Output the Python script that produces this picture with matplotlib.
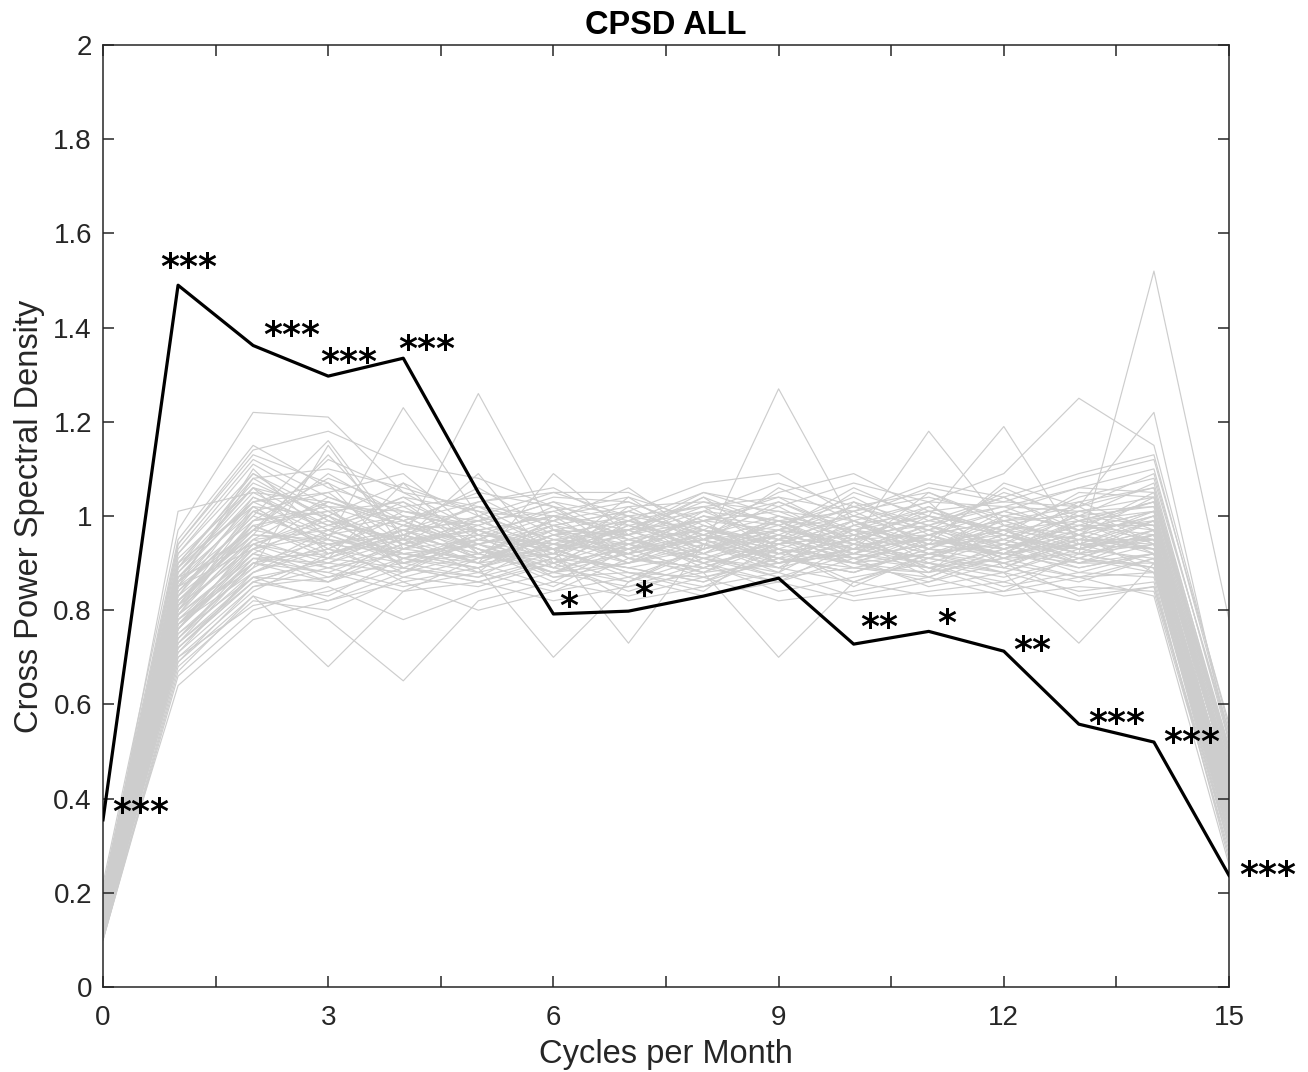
import matplotlib
matplotlib.use("Agg")
import matplotlib.pyplot as plt
import matplotlib.transforms as mtransforms
import numpy as np

plt.rcParams['font.family'] = ['Liberation Sans', 'DejaVu Sans']

freq = list(range(16))

cpsd_all = [0.355, 1.490, 1.362, 1.297, 1.335, 1.050, 0.792, 0.798,
            0.830, 0.868, 0.728, 0.755, 0.713, 0.558, 0.520, 0.237]

sig_labels = ['***', '***', '***', '***', '***', '', '*', '*',
              '', '', '**', '*', '**', '***', '***', '***']

surrogates = [
    [0.15,0.82,0.95,0.90,0.97,0.93,0.88,0.95,0.92,0.99,0.91,0.94,0.97,0.90,0.96,0.38],
    [0.12,0.76,0.92,1.00,0.89,0.95,1.02,0.91,0.88,0.94,0.99,0.92,0.90,0.95,0.93,0.42],
    [0.18,0.88,1.05,0.97,0.92,0.89,0.94,1.01,0.96,0.90,0.93,0.98,1.04,0.97,1.01,0.45],
    [0.11,0.72,0.86,0.83,0.91,0.96,0.87,0.90,0.98,0.93,0.86,0.91,0.88,0.94,0.90,0.33],
    [0.14,0.79,0.99,1.08,1.02,0.94,0.91,0.86,0.93,0.97,1.00,0.95,0.92,0.99,1.03,0.48],
    [0.16,0.85,1.10,0.95,0.88,0.92,0.98,0.95,0.90,0.86,0.94,1.02,0.96,0.91,0.97,0.40],
    [0.13,0.70,0.84,0.92,0.96,0.90,0.85,0.93,1.00,0.95,0.89,0.87,0.93,0.96,0.92,0.36],
    [0.20,0.93,1.12,1.04,0.98,1.06,0.97,0.92,0.95,1.03,0.97,0.93,1.01,1.06,1.10,0.52],
    [0.12,0.74,0.90,0.88,0.84,0.91,0.93,0.88,0.85,0.92,0.95,0.89,0.86,0.91,0.88,0.30],
    [0.17,0.86,0.97,1.12,1.05,0.97,0.90,0.97,1.03,0.98,0.92,0.96,0.99,0.94,1.00,0.44],
    [0.10,0.68,0.82,0.80,0.87,0.85,0.90,0.84,0.89,0.86,0.91,0.85,0.88,0.84,0.86,0.28],
    [0.15,0.81,1.02,0.93,1.00,0.98,0.92,1.04,0.94,0.90,0.97,1.00,0.93,0.98,0.95,0.41],
    [0.19,0.90,1.07,1.00,0.94,1.03,1.06,0.98,1.01,1.07,1.02,0.97,1.05,1.00,1.07,0.50],
    [0.13,0.77,0.88,0.96,0.90,0.87,0.95,0.92,0.87,0.91,0.88,0.93,0.90,0.87,0.91,0.35],
    [0.14,0.80,0.94,0.91,1.07,0.92,0.88,0.90,0.97,0.94,0.99,0.90,0.95,1.02,0.94,0.43],
    [0.16,0.84,1.00,1.16,0.95,0.90,0.97,1.00,0.92,0.96,0.93,1.05,0.98,0.93,0.99,0.46],
    [0.11,0.71,0.85,0.87,0.93,1.00,0.89,0.86,0.94,0.88,0.96,0.89,0.84,0.92,0.89,0.32],
    [0.18,0.89,1.09,0.99,0.91,0.95,1.00,0.96,0.99,1.01,0.95,0.99,1.02,0.96,1.04,0.49],
    [0.15,0.78,0.93,1.03,0.99,0.93,0.86,0.94,0.91,0.87,0.92,0.96,0.91,0.97,0.93,0.39],
    [0.12,0.73,0.87,0.82,0.88,0.97,0.92,0.89,0.86,0.93,0.85,0.92,0.94,0.89,0.92,0.34],
    [0.21,0.95,1.15,1.06,1.01,0.99,1.04,1.03,0.97,0.95,1.05,1.00,0.97,1.04,1.08,0.54],
    [0.14,0.83,0.96,0.94,0.86,0.89,0.96,0.99,1.02,0.92,0.90,0.88,1.00,0.93,0.96,0.42],
    [0.17,0.87,1.04,0.98,1.04,1.01,0.93,0.87,0.93,0.99,1.01,0.94,0.92,1.01,0.98,0.47],
    [0.10,0.66,0.80,0.85,0.78,0.84,0.88,0.85,0.90,0.84,0.87,0.90,0.85,0.88,0.87,0.27],
    [0.13,0.76,0.91,0.90,0.95,1.09,0.90,0.93,0.88,0.96,0.93,0.91,0.96,0.92,0.94,0.37],
    [0.16,0.82,0.98,1.01,0.92,0.94,0.99,1.06,0.95,0.89,0.98,1.03,0.89,0.95,1.01,0.45],
    [0.19,0.91,1.06,0.92,0.97,0.91,0.95,0.97,1.05,1.00,0.94,0.95,1.06,0.99,1.03,0.51],
    [0.12,0.75,0.89,0.97,0.91,0.88,0.84,0.91,0.89,0.94,0.90,0.86,0.92,0.90,0.90,0.34],
    [0.15,0.80,1.01,1.05,1.09,0.96,0.94,0.92,0.99,1.04,0.96,0.98,0.94,1.03,0.97,0.44],
    [0.14,0.79,0.92,0.86,0.93,0.99,1.01,0.95,0.91,0.88,1.03,0.93,0.99,0.94,0.95,0.40],
    [0.22,0.97,1.22,1.21,1.05,1.02,0.98,1.01,1.07,1.09,1.00,1.06,1.03,1.08,1.12,0.56],
    [0.11,0.69,0.83,0.78,0.65,0.82,0.86,0.83,0.87,0.82,0.84,0.87,0.83,0.85,0.84,0.29],
    [0.16,0.85,0.97,1.09,1.00,0.93,0.89,0.99,0.96,0.92,0.95,1.01,0.97,0.92,0.99,0.43],
    [0.13,0.77,0.94,0.89,0.94,0.90,0.96,0.90,0.93,0.97,0.91,0.89,0.93,0.99,0.92,0.38],
    [0.18,0.88,1.03,0.96,0.99,1.05,1.02,0.94,1.00,0.98,1.04,0.96,1.01,0.97,1.05,0.48],
    [0.15,0.81,0.99,1.02,0.89,0.86,0.91,1.02,0.94,0.91,0.88,0.94,0.96,0.93,0.96,0.41],
    [0.12,0.72,0.86,0.91,0.98,0.93,0.87,0.88,0.84,0.95,0.92,0.90,0.87,0.91,0.89,0.33],
    [0.17,0.86,1.08,0.99,0.95,1.26,0.97,0.96,1.02,0.99,0.97,1.02,0.95,1.00,1.02,0.46],
    [0.14,0.78,0.90,0.93,0.87,0.91,0.93,1.00,0.97,0.90,0.93,0.97,0.91,0.96,0.93,0.39],
    [0.20,0.92,1.11,1.02,1.01,0.97,1.00,0.98,0.95,1.06,0.99,0.94,1.07,1.02,1.09,0.53],
    [0.13,0.74,0.88,0.94,0.92,0.89,0.70,0.86,0.91,0.89,0.86,0.92,0.89,0.86,0.91,0.36],
    [0.16,0.83,1.04,0.97,1.04,0.95,0.93,0.94,1.00,0.96,1.02,0.98,0.93,0.98,0.98,0.44],
    [0.11,0.70,0.81,0.84,0.89,0.87,0.91,0.82,0.85,0.88,0.83,0.86,0.90,0.83,0.85,0.30],
    [0.15,0.82,0.96,1.13,0.96,0.92,0.99,0.93,0.96,1.02,0.94,0.91,0.98,0.95,0.95,0.42],
    [0.18,0.90,1.02,1.00,1.07,1.00,1.05,1.05,0.98,0.94,1.01,1.04,1.00,1.03,1.06,0.49],
    [0.13,0.76,0.93,0.87,0.90,0.94,0.89,0.92,0.95,0.91,0.88,0.93,0.92,0.89,0.92,0.37],
    [0.17,0.84,1.00,0.95,0.93,0.98,1.03,1.00,0.90,0.97,1.06,0.99,1.04,0.96,1.00,0.46],
    [0.12,0.64,0.78,0.82,0.86,0.80,0.84,0.87,0.83,0.86,0.82,0.84,0.86,0.82,0.85,0.31],
    [0.14,0.80,0.95,1.04,0.99,0.91,0.92,0.96,1.04,0.93,0.90,0.96,0.99,1.00,0.94,0.40],
    [0.19,0.89,1.06,0.98,1.02,1.04,0.96,0.99,0.93,1.27,0.98,1.01,0.96,1.05,1.04,0.50],
    [0.15,0.79,0.91,0.92,0.95,0.88,1.00,0.91,0.89,0.95,0.97,0.88,0.94,0.93,0.97,0.39],
    [0.16,0.85,1.03,1.07,0.90,0.96,0.94,0.97,0.99,0.90,0.92,1.00,1.19,0.94,0.99,0.45],
    [0.10,0.67,0.83,0.68,0.84,0.86,0.82,0.85,0.88,0.70,0.86,0.83,0.84,0.87,0.83,0.26],
    [0.17,0.87,1.01,0.96,1.03,0.92,0.98,1.01,0.96,1.00,0.95,1.18,0.98,1.01,1.02,0.47],
    [0.13,0.75,0.87,0.90,0.88,0.95,0.91,0.89,0.92,0.87,0.89,0.92,0.88,0.73,0.90,0.35],
    [0.20,0.94,1.14,1.18,1.11,1.08,1.02,0.99,1.05,1.02,1.07,1.03,1.09,1.25,1.15,0.55],
    [0.14,0.81,0.97,0.94,0.97,0.99,0.93,0.73,0.94,0.98,0.93,0.95,0.92,0.94,0.93,0.41],
    [0.16,0.86,0.99,1.01,0.94,0.90,1.09,0.96,1.01,0.95,1.00,0.97,1.01,0.97,1.01,0.43],
    [0.15,0.73,0.90,0.95,1.23,1.00,0.95,0.94,0.90,0.93,0.91,0.94,0.97,0.92,1.52,0.78],
    [0.12,0.77,0.92,0.89,0.92,0.94,0.88,0.92,0.96,0.91,0.94,0.91,0.89,0.96,0.88,0.32],
    [0.18,1.01,1.05,1.03,0.98,0.97,1.00,1.03,0.97,1.05,1.09,1.01,1.03,1.02,1.22,0.52],
    [0.14,0.78,0.89,1.15,0.93,0.91,0.96,0.97,0.91,0.94,0.96,0.92,0.95,0.90,0.94,0.38],
    [0.16,0.84,0.98,0.91,0.96,1.02,0.94,0.93,0.95,0.99,0.92,0.98,0.91,0.99,0.97,0.44],
    [0.13,0.72,0.87,0.86,0.91,0.89,0.93,0.88,0.87,0.90,0.95,0.87,0.93,0.88,0.92,0.36],
    [0.15,0.87,0.94,0.99,0.95,0.97,0.91,0.98,0.93,0.96,0.90,0.95,0.93,0.97,0.99,0.41],
    [0.13,0.80,0.98,0.92,0.97,0.91,0.96,0.93,0.98,0.92,0.95,0.99,0.96,0.92,0.95,0.37],
    [0.17,0.89,1.03,1.05,0.94,0.99,0.93,0.97,0.92,1.00,0.97,0.93,1.00,0.98,1.03,0.47],
    [0.12,0.71,0.88,0.93,0.90,0.92,0.97,0.90,0.94,0.89,0.93,0.90,0.88,0.93,0.91,0.33],
    [0.19,0.92,1.09,1.01,1.03,0.96,1.01,1.04,0.99,0.97,1.02,1.05,0.99,1.02,1.06,0.51],
    [0.14,0.76,0.95,0.97,1.00,0.93,0.90,0.95,0.97,0.94,0.96,0.92,0.97,0.95,0.94,0.39],
    [0.16,0.83,1.01,0.94,0.96,1.00,0.95,0.92,1.01,0.99,0.93,0.97,0.94,1.00,0.98,0.45],
    [0.11,0.69,0.85,0.89,0.85,0.88,0.92,0.89,0.86,0.91,0.89,0.88,0.91,0.87,0.88,0.31],
    [0.15,0.85,0.93,0.96,0.91,0.94,0.98,0.91,0.96,0.93,0.98,0.94,0.95,0.91,0.96,0.40],
    [0.18,0.90,1.08,1.10,1.06,1.01,0.99,1.02,1.03,1.01,0.99,1.03,1.02,1.06,1.05,0.50],
    [0.13,0.74,0.91,0.88,0.94,0.97,0.93,0.96,0.89,0.95,0.91,0.96,0.90,0.94,0.93,0.36],
    [0.16,0.82,0.97,1.03,0.98,0.94,0.97,0.94,0.97,0.91,0.99,0.93,0.98,0.96,1.00,0.43],
    [0.14,0.79,0.96,0.95,0.92,0.90,0.92,0.98,0.93,0.97,0.94,0.91,0.96,0.93,0.97,0.41],
    [0.20,0.94,1.13,1.07,0.99,1.03,1.05,1.00,1.02,1.04,1.01,1.07,1.04,1.09,1.13,0.54],
    [0.12,0.73,0.86,0.91,0.89,0.86,0.90,0.93,0.88,0.90,0.92,0.89,0.91,0.92,0.89,0.32],
    [0.17,0.86,1.02,0.93,1.01,0.98,1.03,0.95,0.99,1.03,0.96,1.00,0.97,0.99,1.01,0.46],
    [0.15,0.80,0.94,1.00,0.93,0.95,0.93,0.99,0.94,0.92,0.97,0.95,0.93,0.98,0.96,0.42],
    [0.13,0.77,0.90,0.86,0.96,0.92,0.88,0.94,0.91,0.96,0.90,0.92,0.94,0.90,0.92,0.35],
    [0.18,0.88,1.06,1.02,0.97,1.02,1.00,0.97,1.04,0.98,1.03,0.98,1.02,1.01,1.04,0.48],
    [0.14,0.81,0.93,0.98,0.95,0.96,0.94,0.90,0.95,0.97,0.95,0.96,0.92,0.95,0.95,0.40],
]

xtick_vals = [0, 1.5, 3, 4.5, 6, 7.5, 9, 10.5, 12, 13.5, 15]
xtick_labels = ['0', '', '3', '', '6', '', '9', '', '12', '', '15']
ytick_vals = [0, 0.2, 0.4, 0.6, 0.8, 1.0, 1.2, 1.4, 1.6, 1.8, 2.0]
ytick_labels = ['0', '0.2', '0.4', '0.6', '0.8', '1', '1.2', '1.4', '1.6', '1.8', '2']

# label placement offsets (left edge dx, glyph-centre dy) relative to each point
star_dx = [0.12, -0.24, 0.13, -0.10, -0.07, 0, 0.08, 0.08, 0, 0, 0.09, 0.11, 0.12, 0.12, 0.12, 0.13]
star_dy = [0.027, 0.049, 0.033, 0.041, 0.030, 0, 0.028, 0.045, 0, 0, 0.047, 0.028, 0.013, 0.013, 0.011, 0.011]

W, H = 1308, 1072
fig = plt.figure(figsize=(W / 100, H / 100), dpi=100)
ax = fig.add_axes([103 / W, (H - 987) / H, (1229 - 103) / W, (987 - 45) / H])

axcol = '#262626'
for s in surrogates:
    ax.plot(freq, s, color='#cdcdcd', linewidth=0.85, zorder=1)
ax.plot(freq, cpsd_all, color='black', linewidth=2.3, zorder=3)

star_fs = 26
star_tr = mtransforms.offset_copy(ax.transData, fig=fig, x=0, y=-0.45 * star_fs, units='points')
for xi, yi, lab, dx, dy in zip(freq, cpsd_all, sig_labels, star_dx, star_dy):
    if lab:
        ax.text(xi + dx, yi + dy, lab, fontsize=star_fs, color='black', family='DejaVu Sans',
                fontweight='bold', ha='left', va='baseline', transform=star_tr,
                zorder=4, clip_on=False)

ax.set_xlim(0, 15)
ax.set_ylim(0, 2)
ax.set_xticks(xtick_vals)
ax.set_xticklabels(xtick_labels)
ax.set_yticks(ytick_vals)
ax.set_yticklabels(ytick_labels)
ax.tick_params(direction='in', length=8, width=1.1, colors=axcol, labelsize=20,
               top=True, right=True, pad=8)
ax.tick_params(axis='x', pad=13)
for sp in ax.spines.values():
    sp.set_color(axcol)
    sp.set_linewidth(1.1)

ax.set_xlabel('Cycles per Month', fontsize=23.5, color=axcol, labelpad=6)
ax.set_ylabel('Cross Power Spectral Density', fontsize=23.5, color=axcol, labelpad=6)
ax.set_title('CPSD ALL', fontsize=23.5, fontweight='bold', color='black', pad=8)

fig.savefig('out.png', dpi=100)
